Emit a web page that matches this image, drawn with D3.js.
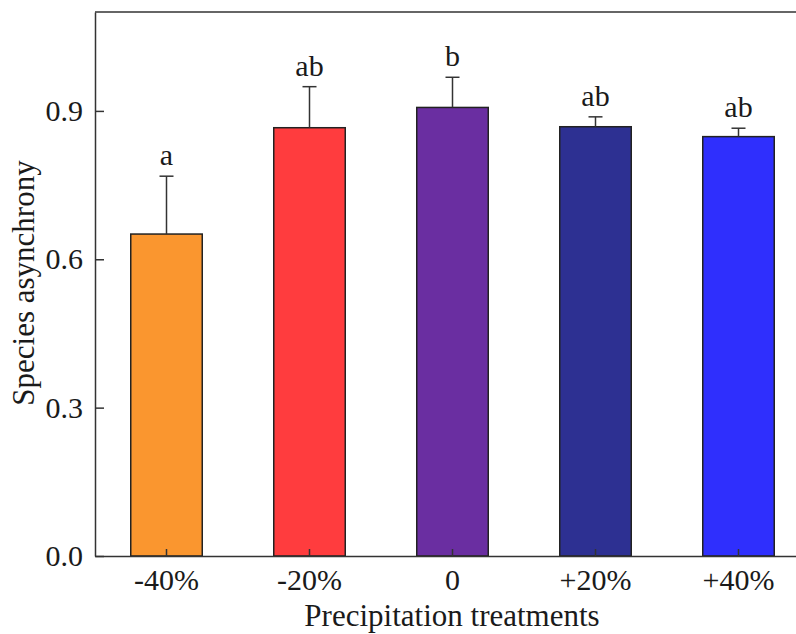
<!DOCTYPE html>
<html>
<head>
<meta charset="utf-8">
<script src="https://cdn.jsdelivr.net/npm/d3@7"></script>
<style>
  body { margin: 0; background: #fff; }
  svg text { font-family: "Liberation Serif", "Times New Roman", serif; fill: #1a1a1a; }
</style>
</head>
<body>
<div id="chart"></div>
<script>
var treatments = ["-40%", "-20%", "0", "+20%", "+40%"];
var asynchrony = [0.651, 0.866, 0.907, 0.868, 0.848];
var stdErr = [0.117, 0.083, 0.061, 0.020, 0.017];
var letters = ["a", "ab", "b", "ab", "ab"];
var barColors = ["#FA962F", "#FF3C3E", "#6A2EA1", "#2D3092", "#2F2FFD"];
var yTicks = [0.0, 0.3, 0.6, 0.9];

var svgWidth = 796;
var svgHeight = 634;
var margin = {top: 12, left: 95, bottom: 78};
var plotRight = 810;
var width = plotRight - margin.left;
var height = svgHeight - margin.top - margin.bottom;

var svg = d3.select("#chart").append("svg")
    .attr("width", svgWidth)
    .attr("height", svgHeight);

var xScale = d3.scaleBand().domain(treatments).range([0, width]).paddingInner(0.5).paddingOuter(0.25);
var yScale = d3.scaleLinear().domain([0, 1.1]).range([height, 0]);

var g = svg.append("g").attr("transform", "translate(" + margin.left + "," + margin.top + ")");

// bars
g.selectAll("rect.bar")
    .data(treatments)
    .enter()
    .append("rect")
    .attr("class", "bar")
    .attr("x", function(d) { return xScale(d); })
    .attr("y", function(d, i) { return yScale(asynchrony[i]); })
    .attr("width", xScale.bandwidth())
    .attr("height", function(d, i) { return height - yScale(asynchrony[i]); })
    .attr("fill", function(d, i) { return barColors[i]; })
    .attr("stroke", "#222")
    .attr("stroke-width", 1.5);

// error bars (upper only)
var capHalf = 7;
treatments.forEach(function(d, i) {
    var cx = xScale(d) + xScale.bandwidth() / 2;
    var top = yScale(asynchrony[i] + stdErr[i]);
    g.append("line")
        .attr("x1", cx).attr("x2", cx)
        .attr("y1", yScale(asynchrony[i])).attr("y2", top)
        .attr("stroke", "#333").attr("stroke-width", 1.5);
    g.append("line")
        .attr("x1", cx - capHalf).attr("x2", cx + capHalf)
        .attr("y1", top).attr("y2", top)
        .attr("stroke", "#333").attr("stroke-width", 1.5);
    g.append("text")
        .attr("x", cx)
        .attr("y", top - 11)
        .attr("text-anchor", "middle")
        .style("font-size", "30px")
        .text(letters[i]);
});

// axes
var bottomAxis = d3.axisBottom(xScale).tickSizeInner(-7).tickSizeOuter(0).tickPadding(13);
var leftAxis = d3.axisLeft(yScale).tickValues(yTicks).tickFormat(d3.format(".1f")).tickSizeInner(-9).tickSizeOuter(0).tickPadding(12);

var xAxisG = g.append("g")
    .attr("transform", "translate(0," + height + ")")
    .call(bottomAxis);
var yAxisG = g.append("g").call(leftAxis);

// top frame line
g.append("line")
    .attr("x1", 0).attr("x2", width)
    .attr("y1", 0).attr("y2", 0)
    .attr("stroke", "#333").attr("stroke-width", 1.5);

[xAxisG, yAxisG].forEach(function(a) {
    a.selectAll("path.domain").attr("stroke", "#333").attr("stroke-width", 1.5);
    a.selectAll(".tick line").attr("stroke", "#333").attr("stroke-width", 1.5);
    a.selectAll(".tick text")
        .style("font-family", "'Liberation Serif', 'Times New Roman', serif")
        .style("font-size", "30px")
        .attr("fill", "#1a1a1a");
});

svg.append("text")
    .attr("transform", "translate(34," + 283 + ") rotate(-90)")
    .attr("text-anchor", "middle")
    .style("font-size", "31px")
    .text("Species asynchrony");

svg.append("text")
    .attr("x", 452)
    .attr("y", 626)
    .attr("text-anchor", "middle")
    .style("font-size", "31px")
    .text("Precipitation treatments");
</script>
</body>
</html>
